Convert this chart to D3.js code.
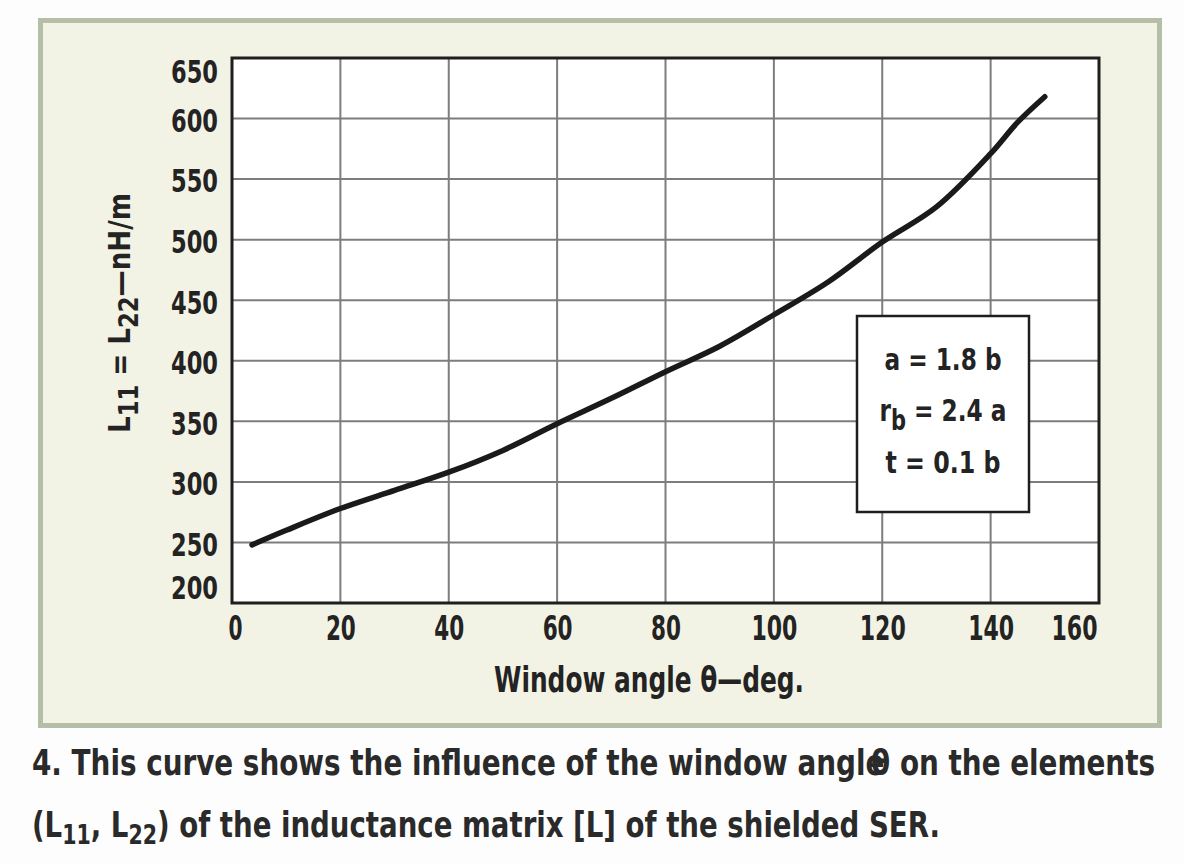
<!DOCTYPE html>
<html>
<head>
<meta charset="utf-8">
<script src="https://cdn.jsdelivr.net/npm/d3@7"></script>
<style>
  html, body { margin: 0; padding: 0; background: #fdfdfd; }
  svg { display: block; }
</style>
</head>
<body>
<svg id="chart" width="1184" height="864"></svg>
<script>
// ---- data ----
const thetaDeg = [3.7, 10, 20, 30, 40, 50, 60, 70, 80, 90, 100, 110, 120, 130, 140, 145, 150];
const inductance = [248, 260, 278, 293, 308, 326, 348, 369, 391, 412, 438, 465, 498, 527, 571, 597, 618];
const xTicks = [0, 20, 40, 60, 80, 100, 120, 140, 160];
const yTicks = [200, 250, 300, 350, 400, 450, 500, 550, 600, 650];
const legendLines = [["a = 1.8 b"], ["r", "b", " = 2.4 a"], ["t = 0.1 b"]];
const xTitle = "Window angle θ—deg.";
const captionLine1 = ["4. This curve shows the influence of the window angle", "θ", " on the elements"];
const captionLine2 = ["(L", "11", ", L", "22", ") of the inductance matrix [L] of the shielded SER."];

const svg = d3.select("#chart");
const textColor = "#232323";
const NARROW = '"Liberation Sans Narrow", "DejaVu Sans Condensed", "Arial Narrow", sans-serif';

function fit(sel, w) {
  sel.attr("textLength", w).attr("lengthAdjust", "spacingAndGlyphs");
}

// background
svg.append("rect").attr("x", 0).attr("y", 0).attr("width", 1184).attr("height", 864).attr("fill", "#fdfdfd");

// outer panel
svg.append("rect")
  .attr("x", 40.5).attr("y", 20.5).attr("width", 1119).attr("height", 705)
  .attr("fill", "#f3f3e5").attr("stroke", "#b5bea6").attr("stroke-width", 5);

// plot geometry
const pLeft = 232, pRight = 1099, pTop = 58, pBottom = 603;
const x = d3.scaleLinear().domain([0, 160]).range([pLeft, pRight]);
const y = d3.scaleLinear().domain([200, 650]).range([pBottom, pTop]);

const g = svg.append("g");
g.append("rect").attr("x", pLeft).attr("y", pTop).attr("width", pRight - pLeft).attr("height", pBottom - pTop).attr("fill", "#ffffff");

// grid
g.append("g").selectAll("line").data(xTicks.slice(1, -1)).join("line")
  .attr("x1", d => x(d)).attr("x2", d => x(d)).attr("y1", pTop).attr("y2", pBottom)
  .attr("stroke", "#7d7d7d").attr("stroke-width", 2);
g.append("g").selectAll("line").data(yTicks.slice(1, -1)).join("line")
  .attr("x1", pLeft).attr("x2", pRight).attr("y1", d => y(d)).attr("y2", d => y(d))
  .attr("stroke", "#7d7d7d").attr("stroke-width", 2);

// frame
g.append("rect").attr("x", pLeft).attr("y", pTop).attr("width", pRight - pLeft).attr("height", pBottom - pTop)
  .attr("fill", "none").attr("stroke", "#1e1e1e").attr("stroke-width", 3);

// axes labels (via d3 axes, domain & ticks hidden)
const xAxis = d3.axisBottom(x).tickValues(xTicks).tickSize(0).tickPadding(14).tickFormat(d3.format("d"));
const xg = svg.append("g").attr("transform", `translate(0,${pBottom})`).call(xAxis);
xg.select(".domain").remove();
xg.selectAll("text")
  .attr("font-family", NARROW).attr("font-size", 33).attr("font-weight", "bold").attr("fill", textColor)
  .attr("dy", "0.71em")
  .attr("dx", d => d === 0 ? 3 : (d === 160 ? -25 : 0))
  .each(function(d) { fit(d3.select(this), String(d).length * 16 - 2); });

const yAxis = d3.axisLeft(y).tickValues(yTicks).tickSize(0).tickPadding(14).tickFormat(d3.format("d"));
const yg = svg.append("g").attr("transform", `translate(${pLeft},0)`).call(yAxis);
yg.select(".domain").remove();
yg.selectAll("text")
  .attr("font-family", NARROW).attr("font-size", 32).attr("font-weight", "bold").attr("fill", textColor)
  .attr("dy", d => d === 650 ? "0.78em" : (d === 200 ? "-0.15em" : "0.4em"))
  .each(function() { fit(d3.select(this), 47); });

// curve
const line = d3.line().x((d, i) => x(thetaDeg[i])).y(d => y(d)).curve(d3.curveCatmullRom.alpha(0.5));
g.append("path").datum(inductance).attr("d", line)
  .attr("fill", "none").attr("stroke", "#1a1a1a").attr("stroke-width", 5.5)
  .attr("stroke-linecap", "round").attr("stroke-linejoin", "round");

// legend box
svg.append("rect").attr("x", 857).attr("y", 316).attr("width", 172).attr("height", 196)
  .attr("fill", "#ffffff").attr("stroke", "#1e1e1e").attr("stroke-width", 2.5);
const legendBase = [370, 421, 473];
const legendWidth = [117, 127, 115];
legendLines.forEach((parts, i) => {
  const t = svg.append("text").attr("x", 943).attr("y", legendBase[i])
    .attr("text-anchor", "middle").attr("font-family", NARROW).attr("font-size", 31)
    .attr("font-weight", "bold").attr("fill", textColor);
  if (parts.length === 1) {
    t.text(parts[0]);
  } else {
    t.append("tspan").text(parts[0]);
    t.append("tspan").attr("dy", 9).attr("font-size", 28).text(parts[1]);
    t.append("tspan").attr("dy", -9).text(parts[2]);
  }
  fit(t, legendWidth[i]);
});

// x title
fit(svg.append("text").attr("x", 649).attr("y", 692).attr("text-anchor", "middle")
  .attr("font-family", NARROW).attr("font-size", 36).attr("font-weight", "bold").attr("fill", textColor)
  .text(xTitle), 310);

// y title (rotated)
const yt = svg.append("text").attr("transform", "translate(130,313) rotate(-90)")
  .attr("text-anchor", "middle").attr("font-family", NARROW).attr("font-size", 30)
  .attr("font-weight", "bold").attr("fill", textColor);
yt.append("tspan").text("L");
yt.append("tspan").attr("dy", 8).attr("font-size", 26).text("11");
yt.append("tspan").attr("dy", -8).text(" = L");
yt.append("tspan").attr("dy", 8).attr("font-size", 26).text("22");
yt.append("tspan").attr("dy", -8).text("—nH/m");
fit(yt, 240);

// caption
const c1 = svg.append("text").attr("x", 32).attr("y", 775)
  .attr("font-family", NARROW).attr("font-size", 35).attr("font-weight", "bold").attr("fill", "#2a2a2a");
c1.append("tspan").text(captionLine1[0]);
c1.append("tspan").attr("dx", -15).text(captionLine1[1]);
c1.append("tspan").text(captionLine1[2]);
fit(c1, 1123);

const c2 = svg.append("text").attr("x", 32).attr("y", 837)
  .attr("font-family", NARROW).attr("font-size", 35).attr("font-weight", "bold").attr("fill", "#2a2a2a");
c2.append("tspan").text(captionLine2[0]);
c2.append("tspan").attr("dy", 7).attr("font-size", 26).text(captionLine2[1]);
c2.append("tspan").attr("dy", -7).text(captionLine2[2]);
c2.append("tspan").attr("dy", 7).attr("font-size", 26).text(captionLine2[3]);
c2.append("tspan").attr("dy", -7).text(captionLine2[4]);
fit(c2, 908);
</script>
</body>
</html>
